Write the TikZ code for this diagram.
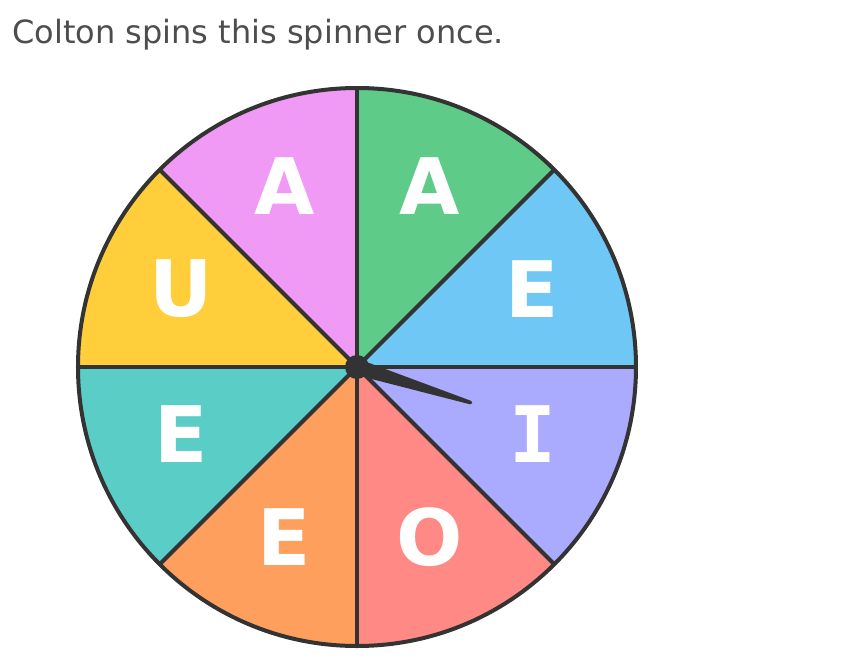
\documentclass[tikz,border=0pt]{standalone}
\usepackage{fontspec}
\setmainfont{DejaVu Sans}
\setmonofont{DejaVu Sans Mono}
\usepackage{tikz}

\definecolor{rim}{HTML}{333333}
\definecolor{titlegray}{HTML}{4D4D4D}
\definecolor{pinkA}{HTML}{F09AF5}
\definecolor{greenA}{HTML}{5FCB88}
\definecolor{blueE}{HTML}{6EC7F4}
\definecolor{lilacI}{HTML}{AAAAFE}
\definecolor{salmonO}{HTML}{FF8985}
\definecolor{orangeE}{HTML}{FF9F5E}
\definecolor{tealE}{HTML}{5BCDC7}
\definecolor{yellowU}{HTML}{FFCE3A}

\tikzset{
  letter/.style={text=white, font=\fontsize{78}{80}\selectfont\bfseries, inner sep=0pt},
  rimline/.style={draw=rim, line width=4pt}
}

\begin{document}
\begin{tikzpicture}[x=1pt,y=1pt]
\useasboundingbox (-357,-290) rectangle (490,367);

%% question
\node[anchor=base west, inner sep=0pt, text=titlegray,
      font=\fontsize{32}{38}\selectfont] (question) at (-345,324)
      {Colton spins this spinner once.};

%% sectors
\foreach \a/\col in {0/blueE, 45/greenA, 90/pinkA, 135/yellowU,
                     180/tealE, 225/orangeE, 270/salmonO, 315/lilacI}
  \fill[\col] (0,0) -- (\a:279) arc (\a:\a+45:279) -- cycle;

%% spokes and rim
\foreach \a in {0,45,...,315}
  \draw[rimline] (0,0) -- (\a:279);
\draw[rimline] (0,0) circle (279);

%% sector letters (a little above the hub line)
\begin{scope}[yshift=5.5pt]
\node[letter] (sa1) at (112.5:190) {A};
\node[letter] (sa2) at (67.5:190) {A};
\node[letter] (se1) at (22.5:190) {E};
\node[letter, font=\fontsize{78}{80}\selectfont\ttfamily\bfseries] (si) at (-22.5:190) {I};
\node[letter] (so)  at (-67.5:190) {O};
\node[letter] (se2) at (-112.5:190) {E};
\node[letter] (se3) at (-157.5:190) {E};
\node[letter] (su)  at (157.5:190) {U};
\end{scope}

%% pointer
\fill[rim, rotate=-17.4] (0,8) -- (119,1.8) arc (90:-90:1.8) -- (0,-8) -- cycle;
\fill[rim] (0,0) circle (12);
\end{tikzpicture}
\end{document}
